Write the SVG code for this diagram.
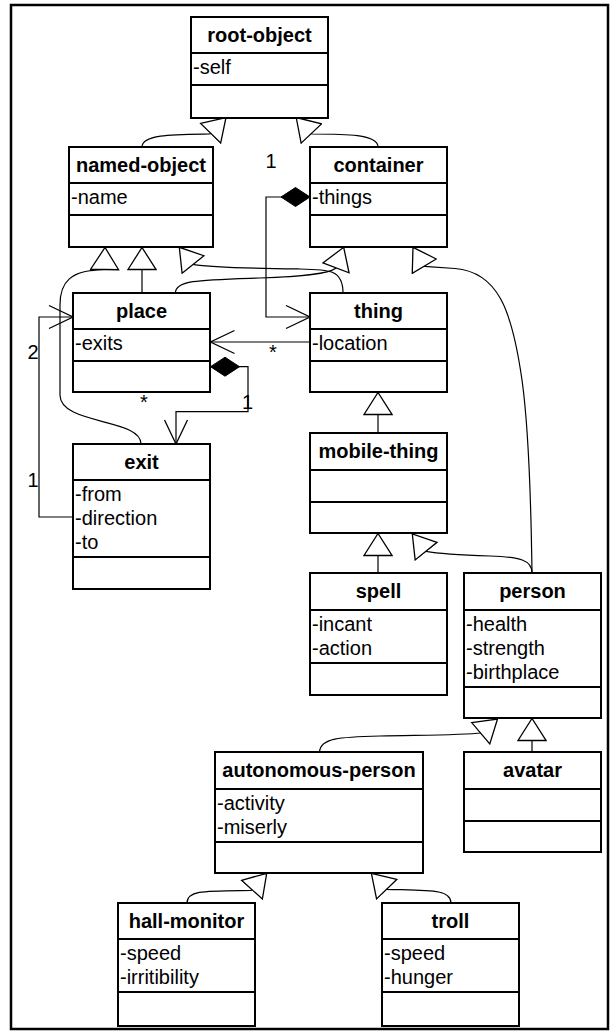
<svg xmlns="http://www.w3.org/2000/svg" width="610" height="1031" viewBox="0 0 610 1031">
<style>
.box{fill:#fff;stroke:#000;stroke-width:2}
.div{stroke:#000;stroke-width:2}
.t{font-family:"Liberation Sans",Arial,sans-serif;font-size:20px;fill:#000}
.h{font-weight:bold;text-anchor:middle}
.lbl{text-anchor:middle}
.c{fill:none;stroke:#000;stroke-width:1.2}
</style>
<defs>
<marker id="gen" markerUnits="userSpaceOnUse" markerWidth="24" markerHeight="30" viewBox="0 0 24 30" refX="23" refY="15" orient="auto"><path d="M1,1 L23,15 L1,29 Z" fill="#fff" stroke="#000" stroke-width="1.3"/></marker>
<marker id="open" markerUnits="userSpaceOnUse" markerWidth="26" markerHeight="26" viewBox="0 0 26 26" refX="25" refY="13" orient="auto"><path d="M1,1.5 L25,13 L1,24.5" fill="none" stroke="#000" stroke-width="1.3"/></marker>
<marker id="diamond" markerUnits="userSpaceOnUse" markerWidth="31" markerHeight="21" viewBox="0 0 31 21" refX="1" refY="10.5" orient="auto"><path d="M1,10.5 L15.5,1 L30,10.5 L15.5,20 Z" fill="#000" stroke="#000" stroke-width="1"/></marker>
</defs>
<rect x="11" y="5" width="597" height="1024" fill="#fff" stroke="#000" stroke-width="2.5"/>

<g id="connectors">
<path class="c" marker-end="url(#gen)" d="M142,147 C142,134 175,134.5 209.9,134 L226,117.5"/>
<path class="c" marker-end="url(#gen)" d="M378,147 C378,134 345,134 311.8,134 L296.2,117.5"/>
<path class="c" marker-end="url(#gen)" d="M142,293 L142,247.5"/>
<path class="c" marker-end="url(#gen)" d="M141,444 C141,418 60,425 60,395 L60,305 C60,282 70,270 104.6,269.7 L105,247.5"/>
<path class="c" marker-end="url(#gen)" d="M343,293 C343,270 330,269.5 300,269 C260,268.5 215,268 192.9,264.3 L179.3,247.3"/>
<path class="c" marker-end="url(#gen)" d="M175.4,293 C175.4,280 200,280 260,278 C305,276.5 328,274 335.8,268.3 L343.7,247.3"/>
<path class="c" marker-end="url(#gen)" d="M532,573 C531,500 529,430 522,380 C512,310 498,272 455,268.5 L424.4,266.4 L413,247.3"/>
<path class="c" marker-end="url(#gen)" d="M532,573 C532,560 520,557 490,556 C460,555 440,554 426.2,551.3 L412.3,534"/>
<path class="c" marker-end="url(#gen)" d="M378,433 L378,392.5"/>
<path class="c" marker-end="url(#gen)" d="M378,573 L378,533.5"/>
<path class="c" marker-end="url(#gen)" d="M319.6,752 C320,738 340,737 380,736 C430,735 465,735 481,733 L497.5,719"/>
<path class="c" marker-end="url(#gen)" d="M532,752 L532,718.5"/>
<path class="c" marker-end="url(#gen)" d="M187,903 C187,890 205,891 251.2,890.5 L266.7,873.3"/>
<path class="c" marker-end="url(#gen)" d="M451,903 C451,889 430,890.5 386.8,889.3 L371.4,873.3"/>
<path class="c" marker-start="url(#diamond)" marker-end="url(#open)" d="M310,197 L266,197 L266,317 L310,317"/>
<path class="c" marker-end="url(#open)" d="M310,342 L210.5,342"/>
<path class="c" marker-end="url(#open)" d="M73,517 L39,517 L39,317 L73,317"/>
<path class="c" marker-start="url(#diamond)" marker-end="url(#open)" d="M210.5,366.7 L248,366.7 L248,411.7 L176,411.7 L176,444"/>
<text class="t lbl" x="271" y="168">1</text>
<text class="t lbl" x="273" y="359">*</text>
<text class="t lbl" x="33" y="359">2</text>
<text class="t lbl" x="33" y="487">1</text>
<text class="t lbl" x="247.5" y="409">1</text>
<text class="t lbl" x="144" y="409">*</text>
</g>

<g id="root-object">
<rect class="box" x="191" y="17" width="137" height="101"/>
<line class="div" x1="191" y1="53" x2="328" y2="53"/><line class="div" x1="191" y1="85" x2="328" y2="85"/>
<text class="t h" x="259.5" y="42">root-object</text>
<text class="t" x="193" y="74">-self</text>
</g>
<g id="named-object">
<rect class="box" x="69" y="147" width="144" height="100"/>
<line class="div" x1="69" y1="183" x2="213" y2="183"/><line class="div" x1="69" y1="215" x2="213" y2="215"/>
<text class="t h" x="141" y="172">named-object</text>
<text class="t" x="71" y="204">-name</text>
</g>
<g id="container">
<rect class="box" x="310" y="147" width="137" height="100"/>
<line class="div" x1="310" y1="183" x2="447" y2="183"/><line class="div" x1="310" y1="215" x2="447" y2="215"/>
<text class="t h" x="378.5" y="172">container</text>
<text class="t" x="312" y="204">-things</text>
</g>
<g id="place">
<rect class="box" x="73" y="293" width="137" height="99"/>
<line class="div" x1="73" y1="329" x2="210" y2="329"/><line class="div" x1="73" y1="361" x2="210" y2="361"/>
<text class="t h" x="141.5" y="318">place</text>
<text class="t" x="75" y="350">-exits</text>
</g>
<g id="thing">
<rect class="box" x="310" y="293" width="137" height="99"/>
<line class="div" x1="310" y1="329" x2="447" y2="329"/><line class="div" x1="310" y1="361" x2="447" y2="361"/>
<text class="t h" x="378.5" y="318">thing</text>
<text class="t" x="312" y="350">-location</text>
</g>
<g id="exit">
<rect class="box" x="73" y="444" width="137" height="145"/>
<line class="div" x1="73" y1="480" x2="210" y2="480"/><line class="div" x1="73" y1="557" x2="210" y2="557"/>
<text class="t h" x="141.5" y="469">exit</text>
<text class="t" x="75" y="501">-from</text>
<text class="t" x="75" y="525">-direction</text>
<text class="t" x="75" y="549">-to</text>
</g>
<g id="mobile-thing">
<rect class="box" x="310" y="433" width="137" height="100"/>
<line class="div" x1="310" y1="470" x2="447" y2="470"/><line class="div" x1="310" y1="502" x2="447" y2="502"/>
<text class="t h" x="378.5" y="458">mobile-thing</text>
</g>
<g id="spell">
<rect class="box" x="310" y="573" width="137" height="122"/>
<line class="div" x1="310" y1="610" x2="447" y2="610"/><line class="div" x1="310" y1="663" x2="447" y2="663"/>
<text class="t h" x="378.5" y="598">spell</text>
<text class="t" x="312" y="631">-incant</text>
<text class="t" x="312" y="655">-action</text>
</g>
<g id="person">
<rect class="box" x="464" y="573" width="137" height="145"/>
<line class="div" x1="464" y1="610" x2="601" y2="610"/><line class="div" x1="464" y1="687" x2="601" y2="687"/>
<text class="t h" x="532.5" y="598">person</text>
<text class="t" x="466" y="631">-health</text>
<text class="t" x="466" y="655">-strength</text>
<text class="t" x="466" y="679">-birthplace</text>
</g>
<g id="autonomous-person">
<rect class="box" x="215" y="752" width="208" height="121"/>
<line class="div" x1="215" y1="789" x2="423" y2="789"/><line class="div" x1="215" y1="842" x2="423" y2="842"/>
<text class="t h" x="319" y="777">autonomous-person</text>
<text class="t" x="217" y="810">-activity</text>
<text class="t" x="217" y="834">-miserly</text>
</g>
<g id="avatar">
<rect class="box" x="464" y="752" width="137" height="100"/>
<line class="div" x1="464" y1="789" x2="601" y2="789"/><line class="div" x1="464" y1="821" x2="601" y2="821"/>
<text class="t h" x="532.5" y="777">avatar</text>
</g>
<g id="hall-monitor">
<rect class="box" x="118" y="903" width="137" height="123"/>
<line class="div" x1="118" y1="939" x2="255" y2="939"/><line class="div" x1="118" y1="992" x2="255" y2="992"/>
<text class="t h" x="186.5" y="928">hall-monitor</text>
<text class="t" x="120" y="960">-speed</text>
<text class="t" x="120" y="984">-irritibility</text>
</g>
<g id="troll">
<rect class="box" x="382" y="903" width="137" height="123"/>
<line class="div" x1="382" y1="939" x2="519" y2="939"/><line class="div" x1="382" y1="992" x2="519" y2="992"/>
<text class="t h" x="450.5" y="928">troll</text>
<text class="t" x="384" y="960">-speed</text>
<text class="t" x="384" y="984">-hunger</text>
</g>
</svg>
